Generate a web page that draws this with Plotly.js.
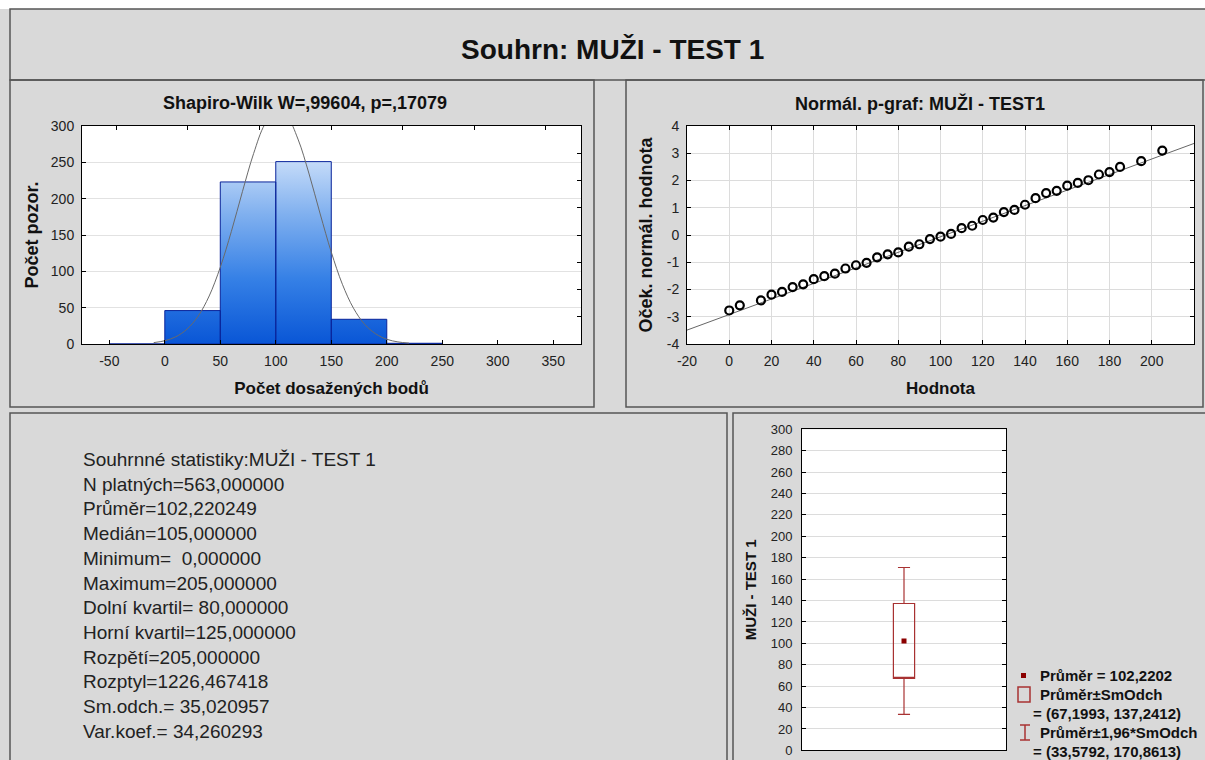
<!DOCTYPE html>
<html>
<head>
<meta charset="utf-8">
<script src="https://cdn.plot.ly/plotly-3.0.1.min.js"></script>
<style>html,body{margin:0;padding:0;background:#d9d9d9;}#chart{width:1205px;height:760px;}</style>
</head>
<body>
<div id="chart"></div>
<script>
// ---------- DATA ----------
const mainTitle = "Souhrn: MUŽI - TEST 1";
const histTitle = "Shapiro-Wilk W=,99604, p=,17079";
const ppTitle = "Normál. p-graf: MUŽI - TEST1";

// histogram
const binEdges = [-50, 0, 50, 100, 150, 200, 250];
const binCounts = [0, 46, 223, 251, 34, 1];
// fitted normal curve
const normCurveX = [-10, 0, 10, 20, 30, 40, 50, 60, 70, 80, 90, 100, 110, 120, 130, 140, 150, 160, 170, 180, 190, 200, 210, 220];
const normCurveY = [1.9, 4.5, 10, 20.4, 38.2, 66.1, 105.6, 155, 210, 262, 302, 320, 313, 282, 234, 179, 126.5, 82.2, 49.3, 27.2, 14, 6.5, 2.9, 1.2];
const histXTickVals = [-50, 0, 50, 100, 150, 200, 250, 300, 350];
const histXTickText = ["-50", "0", "50", "100", "150", "200", "250", "300", "350"];
const histYTickVals = [0, 50, 100, 150, 200, 250, 300];
const histTopTicks = [-43.7, 20.8, 85.3, 149.8, 214.3, 278.8, 343.2];
const histRightTicks = [37.5, 75, 112.5, 150, 187.5, 225, 262.5];

// normal probability plot
const ppX = [0, 5, 15, 20, 25, 30, 35, 40, 45, 50, 55, 60, 65, 70, 75, 80, 85, 90, 95, 100, 105, 110, 115, 120, 125, 130, 135, 140, 145, 150, 155, 160, 165, 170, 175, 180, 185, 195, 205];
const ppY = [-2.77, -2.58, -2.40, -2.19, -2.09, -1.91, -1.81, -1.62, -1.51, -1.42, -1.23, -1.11, -1.02, -0.82, -0.71, -0.64, -0.43, -0.34, -0.15, -0.06, 0.04, 0.25, 0.34, 0.55, 0.64, 0.84, 0.92, 1.11, 1.35, 1.54, 1.62, 1.81, 1.91, 2.01, 2.22, 2.31, 2.50, 2.71, 3.10];
const fitLineX = [-20, 220];
const fitLineY = [-3.49, 3.36];
const ppXTickVals = [-20, 0, 20, 40, 60, 80, 100, 120, 140, 160, 180, 200, 220];
const ppXTickText = ["-20", "0", "20", "40", "60", "80", "100", "120", "140", "160", "180", "200", "220"];
const ppYTickVals = [-4, -3, -2, -1, 0, 1, 2, 3, 4];
const ppYTickText = ["-4", "-3", "-2", "-1", "0", "1", "2", "3", "4"];

// box plot (mean +- SD, mean +- 1.96 SD)
const boxCategory = ["MUŽI - TEST 1"];
const boxMean = [102.2202];
const boxSdLow = [67.1993];
const boxSdHigh = [137.2412];
const boxCiLow = [33.5792];
const boxCiHigh = [170.8613];

// summary statistics text
const statHeader = "Souhrnné statistiky:MUŽI - TEST 1";
const statNames = ["N platných=", "Průměr=", "Medián=", "Minimum=  ", "Maximum=", "Dolní kvartil= ", "Horní kvartil=", "Rozpětí=", "Rozptyl=", "Sm.odch.= ", "Var.koef.= "];
const statValues = ["563,000000", "102,220249", "105,000000", "0,000000", "205,000000", "80,000000", "125,000000", "205,000000", "1226,467418", "35,020957", "34,260293"];

// ---------- HELPERS ----------
const W = 1205, H = 760;
const px = v => v / W;
const py = v => 1 - v / H;
const FONT = "Liberation Sans, Arial, sans-serif";
const dec = (v, n) => v.toFixed(n).replace('.', ',');

// histogram bar outlines built from bins
const barX = [], barY = [];
for (let i = 0; i < binCounts.length; i++) {
  const a = binEdges[i], b = binEdges[i + 1], h = binCounts[i];
  barX.push(a, a, b, b, a, null);
  barY.push(0, h, h, 0, 0, null);
}

const traces = [
  {
    type: 'scatter', mode: 'lines', x: barX, y: barY, xaxis: 'x', yaxis: 'y',
    fill: 'toself',
    fillgradient: { type: 'vertical', start: 0, stop: 255,
      colorscale: [[0, '#0956d6'], [0.35, '#3580e6'], [0.7, '#80b0ef'], [1, '#c8ddf9']] },
    line: { color: '#0a249a', width: 1 }, hoverinfo: 'skip'
  },
  {
    type: 'scatter', mode: 'lines', x: normCurveX, y: normCurveY, xaxis: 'x', yaxis: 'y',
    line: { color: '#6a6a6a', width: 1, shape: 'spline' }, hoverinfo: 'skip'
  },
  { type: 'scatter', mode: 'markers', x: [null], y: [null], xaxis: 'x4', yaxis: 'y4', hoverinfo: 'skip' },
  {
    type: 'scatter', mode: 'lines', x: fitLineX, y: fitLineY, xaxis: 'x2', yaxis: 'y2',
    line: { color: '#666', width: 1 }, hoverinfo: 'skip'
  },
  {
    type: 'scatter', mode: 'markers', x: ppX, y: ppY, xaxis: 'x2', yaxis: 'y2',
    marker: { symbol: 'circle-open', size: 8, color: '#000', line: { width: 2.2, color: '#000' } }
  },
  {
    type: 'box', orientation: 'v', x: [0], xaxis: 'x3', yaxis: 'y3',
    q1: boxSdLow, median: boxSdLow, q3: boxSdHigh, lowerfence: boxCiLow, upperfence: boxCiHigh,
    width: 0.104, whiskerwidth: 0.57, boxpoints: false,
    line: { color: '#a83232', width: 1.2 }, fillcolor: 'rgba(255,255,255,0)', name: boxCategory[0]
  },
  {
    type: 'scatter', mode: 'markers', x: [0], y: boxMean, xaxis: 'x3', yaxis: 'y3',
    marker: { symbol: 'square', size: 5, color: '#8b0000' }
  }
];

const tickFont = { family: FONT, size: 14, color: '#222' };
const titleFont = { family: FONT, size: 17, color: '#111', weight: 'bold' };

const layout = {
  width: W, height: H,
  margin: { l: 0, r: 0, t: 0, b: 0 },
  paper_bgcolor: '#d9d9d9', plot_bgcolor: '#ffffff',
  showlegend: false,
  xaxis: {
    domain: [px(82), px(581)], anchor: 'y', range: [-74.6, 375],
    tickvals: histXTickVals, ticktext: histXTickText, ticks: 'inside', ticklen: 4, tickcolor: '#000',
    ticklabelstandoff: 4,
    showgrid: false, zeroline: false, showline: true, linecolor: '#000', linewidth: 1, mirror: true,
    tickfont: tickFont,
    title: { text: 'Počet dosažených bodů', font: titleFont, standoff: 14 }
  },
  yaxis: {
    domain: [py(344), py(126)], anchor: 'x', range: [0, 300],
    tickvals: histYTickVals, ticks: 'inside', ticklen: 4, tickcolor: '#000',
    ticklabelstandoff: 4,
    showgrid: true, gridcolor: '#e2e2e2', zeroline: false, showline: true, linecolor: '#000', linewidth: 1, mirror: true,
    tickfont: tickFont,
    title: { text: 'Počet pozor.', font: Object.assign({}, titleFont, { size: 18 }), standoff: 7 }
  },
  xaxis4: {
    overlaying: 'x', anchor: 'y', side: 'top', range: [-74.6, 375],
    tickvals: histTopTicks, ticks: 'inside', ticklen: 4, tickcolor: '#000',
    showticklabels: false, showgrid: false, zeroline: false, showline: false
  },
  yaxis4: {
    overlaying: 'y', anchor: 'x', side: 'right', range: [0, 300],
    tickvals: histRightTicks, ticks: 'inside', ticklen: 4, tickcolor: '#000',
    showticklabels: false, showgrid: false, zeroline: false, showline: false
  },
  xaxis2: {
    domain: [px(687), px(1194)], anchor: 'y2', range: [-20, 220],
    tickvals: ppXTickVals, ticktext: ppXTickText, ticks: 'inside', ticklen: 4, tickcolor: '#000',
    ticklabelstandoff: 4,
    showgrid: true, gridcolor: '#dcdcdc', zeroline: false, showline: true, linecolor: '#000', linewidth: 1, mirror: 'ticks',
    tickfont: tickFont,
    title: { text: 'Hodnota', font: titleFont, standoff: 14 }
  },
  yaxis2: {
    domain: [py(344), py(126)], anchor: 'x2', range: [-4, 4],
    tickvals: ppYTickVals, ticktext: ppYTickText, ticks: 'inside', ticklen: 4, tickcolor: '#000',
    ticklabelstandoff: 4,
    showgrid: true, gridcolor: '#dcdcdc', zeroline: false, showline: true, linecolor: '#000', linewidth: 1, mirror: 'ticks',
    tickfont: tickFont,
    title: { text: 'Oček. normál. hodnota', font: Object.assign({}, titleFont, { size: 18 }), standoff: 9 }
  },
  xaxis3: {
    domain: [px(802), px(1006)], anchor: 'y3', range: [-0.5, 0.5],
    showticklabels: false, ticks: '', showgrid: false, zeroline: false,
    showline: true, linecolor: '#000', linewidth: 1, mirror: true
  },
  yaxis3: {
    domain: [py(750.4), py(429.3)], anchor: 'x3', range: [0, 300], dtick: 20,
    ticks: 'inside', ticklen: 4, tickcolor: '#000', ticklabelstandoff: 6,
    showgrid: true, gridcolor: '#dcdcdc', zeroline: false, showline: true, linecolor: '#000', linewidth: 1, mirror: 'ticks',
    tickfont: { family: FONT, size: 13, color: '#222' },
    title: { text: boxCategory[0], font: Object.assign({}, titleFont, { size: 15 }), standoff: 10 }
  },
  shapes: [],
  annotations: []
};

// panel frames
const frame = (x0, y0, x1, y1) => ({
  type: 'rect', xref: 'paper', yref: 'paper', layer: 'below',
  x0: px(x0), x1: px(x1), y0: py(y1), y1: py(y0),
  line: { color: '#555', width: 1.5 }, fillcolor: 'rgba(0,0,0,0)'
});
layout.shapes.push({ type: 'rect', xref: 'paper', yref: 'paper', layer: 'below',
  x0: 0, x1: 1, y0: py(9), y1: 1, line: { width: 0 }, fillcolor: '#ffffff' });
layout.shapes.push(frame(10, 9, 1220, 80));
layout.shapes.push(frame(10, 80, 594, 407));
layout.shapes.push(frame(626, 80, 1203, 407));
layout.shapes.push(frame(10, 413, 727, 775));
layout.shapes.push(frame(733, 413, 1220, 775));

// titles
const ann = (text, x, y, opts) => Object.assign({
  text, xref: 'paper', yref: 'paper', x: px(x), y: py(y), showarrow: false,
  xanchor: 'center', yanchor: 'middle'
}, opts || {});
layout.annotations.push(ann(mainTitle, 612, 49, { font: { family: FONT, size: 28, color: '#111', weight: 'bold' } }));
layout.annotations.push(ann(histTitle, 305, 103, { font: { family: FONT, size: 18, color: '#111', weight: 'bold' } }));
layout.annotations.push(ann(ppTitle, 920, 103, { font: { family: FONT, size: 18, color: '#111', weight: 'bold' } }));

// summary statistics
const statLines = [statHeader].concat(statNames.map((n, i) => (n + statValues[i]).replace(/  /g, ' &nbsp;')));
layout.annotations.push(ann(statLines.join('<br>'), 81, 447, {
  xanchor: 'left', yanchor: 'top', align: 'left',
  font: { family: FONT, size: 19, color: '#222' }
}));

// custom legend for box plot
const legFont = { family: FONT, size: 15, color: '#111', weight: 'bold' };
const lx = 1038;
layout.annotations.push(ann('Průměr = ' + dec(boxMean[0], 4), lx, 675, { xanchor: 'left', font: legFont }));
layout.annotations.push(ann('Průměr±SmOdch', lx, 694, { xanchor: 'left', font: legFont }));
layout.annotations.push(ann('= (' + dec(boxSdLow[0], 4) + ', ' + dec(boxSdHigh[0], 4) + ')', 1031, 713, { xanchor: 'left', font: legFont }));
layout.annotations.push(ann('Průměr±1,96*SmOdch', lx, 732, { xanchor: 'left', font: legFont }));
layout.annotations.push(ann('= (' + dec(boxCiLow[0], 4) + ', ' + dec(boxCiHigh[0], 4) + ')', 1031, 751, { xanchor: 'left', font: legFont }));
const pshape = (o) => Object.assign({ xref: 'paper', yref: 'paper' }, o);
layout.shapes.push(pshape({ type: 'rect', x0: px(1021), x1: px(1026), y0: py(678), y1: py(673), fillcolor: '#8b0000', line: { width: 0 } }));
layout.shapes.push(pshape({ type: 'rect', x0: px(1018), x1: px(1030), y0: py(702), y1: py(687), fillcolor: 'rgba(0,0,0,0)', line: { color: '#a83232', width: 1.5 } }));
layout.shapes.push(pshape({ type: 'line', x0: px(1025), x1: px(1025), y0: py(740), y1: py(725), line: { color: '#a83232', width: 1.5 } }));
layout.shapes.push(pshape({ type: 'line', x0: px(1020), x1: px(1030), y0: py(725), y1: py(725), line: { color: '#a83232', width: 1.5 } }));
layout.shapes.push(pshape({ type: 'line', x0: px(1020), x1: px(1030), y0: py(740), y1: py(740), line: { color: '#a83232', width: 1.5 } }));

Plotly.newPlot('chart', traces, layout, { staticPlot: true, displayModeBar: false });
</script>
</body>
</html>
